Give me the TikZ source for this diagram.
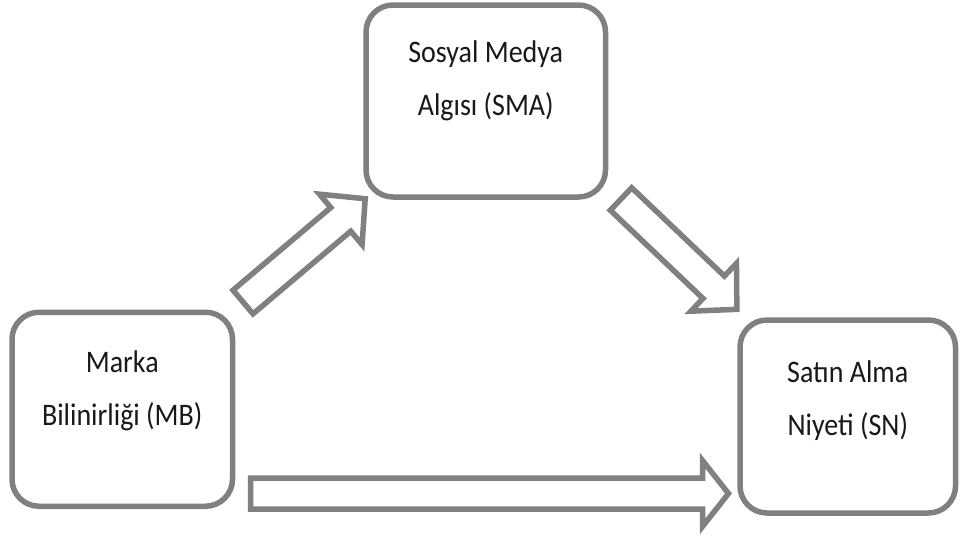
\documentclass[tikz,border=0pt]{standalone}
\usepackage{fontspec}
\setmainfont{Carlito}
\definecolor{edgegray}{RGB}{128,128,128}
\definecolor{inkgray}{RGB}{25,25,25}
\tikzset{
  box/.style={draw=edgegray, line width=5.5pt, rounded corners=27pt, fill=white, inner sep=0pt},
  boxtext/.style={text=inkgray, align=center, font=\fontsize{28}{53}\selectfont, inner sep=0pt},
  blockline/.style={draw=edgegray, line width=5.5pt, fill=white, line join=miter}
}
% taller text lines
\newcommand\tallline[1]{\scalebox{1}[1.12]{#1}}
% block arrow: #1 tail coordinate, #2 angle, #3 length, #4 head length
\newcommand\blockarrow[4]{%
  \draw[blockline, shift={(#1)}, rotate=#2]
    (0,-15.5) -- (#3-#4,-15.5) -- (#3-#4,-33) -- (#3,0) -- (#3-#4,33)
    -- (#3-#4,15.5) -- (0,15.5) -- cycle;}
\begin{document}
\begin{tikzpicture}[x=1pt,y=-1pt]
\useasboundingbox (0,0) rectangle (960,541);

% boxes
\node[box, minimum width=220.5pt, minimum height=194pt] (mb) at (122.25,409.25) {};
\node[box, minimum width=239.5pt, minimum height=192pt] (sma) at (485.75,101) {};
\node[box, minimum width=215.5pt, minimum height=193pt] (sn) at (847.75,416.5) {};

% box texts
\node[boxtext] (mbt) at ([yshift=18pt]mb.center) {\tallline{Marka}\\\tallline{Bilinirliği (MB)}};
\node[boxtext] (smat) at ([yshift=20pt]sma.center) {\tallline{Sosyal Medya}\\\tallline{Algısı (SMA)}};
\node[boxtext] (snt) at ([yshift=16pt]sn.center) {\tallline{Satın Alma}\\\tallline{Niyeti (SN)}};

% arrow tails
\coordinate (a1) at (243,302);
\coordinate (a2) at (621,199);
\coordinate (a3) at (250.5,493.5);

% block arrows
\blockarrow{a1}{40.2}{160}{32}
\blockarrow{a2}{-43.6}{160}{32}
\blockarrow{a3}{0}{478}{26}
\end{tikzpicture}
\end{document}
